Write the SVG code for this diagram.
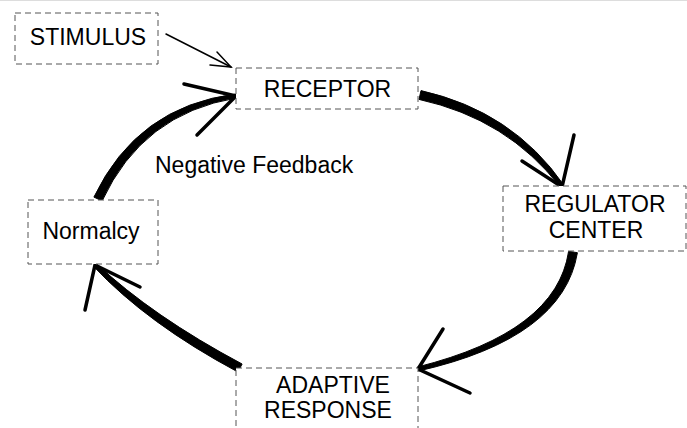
<svg xmlns="http://www.w3.org/2000/svg" width="687" height="428" viewBox="0 0 687 428">
<style>
.box{fill:#fff;stroke:#555;stroke-width:1;stroke-dasharray:6,4}
.lbl{font-family:"Liberation Sans",Arial,sans-serif;font-size:23px;fill:#000;text-anchor:middle}
.thick{fill:#000;stroke:#000;stroke-width:1;stroke-linejoin:round}
.barb{fill:none;stroke:#000;stroke-width:3.5;stroke-linecap:round}
.thin{fill:none;stroke:#000;stroke-width:1.5;stroke-linecap:round}
</style>
<rect width="687" height="428" fill="#fff"/>
<line x1="0" y1="0.5" x2="687" y2="0.5" stroke="#ddd" stroke-width="1"/>
<g id="connectors">
  <g id="stimulus-to-receptor">
    <line class="thin" x1="166" y1="34" x2="231" y2="67"/>
    <polyline class="thin" points="217,52 231,67 210,65"/>
  </g>
  <g id="receptor-to-regulator">
    <path class="thick" d="M419,99.4 Q507.5,118.8 560.4,187.2 L563.6,184.8 Q512.5,111.2 421,90.6 Z"/>
    <polyline class="barb" points="522,161 562,187 574,135"/>
  </g>
  <g id="regulator-to-adaptive">
    <path class="thick" d="M568.6,251.3 Q556.7,331.9 417.5,367 L418.5,371 Q563.3,338.1 577.4,252.7 Z"/>
    <polyline class="barb" points="443,329 418,369 470,393"/>
  </g>
  <g id="adaptive-to-normalcy">
    <path class="thick" d="M242.1,364 Q152.7,316.4 96.4,263.6 L93.6,266.4 Q147.3,323.6 237.9,372 Z"/>
    <polyline class="barb" points="85,310 95,265 140,287"/>
  </g>
  <g id="normalcy-to-receptor">
    <path class="thick" d="M102.1,200.9 Q142.7,113.6 236.3,98 L235.7,94 Q137.3,106.4 93.9,197.1 Z"/>
    <polyline class="barb" points="184,84 236,96 197,135"/>
  </g>
</g>
<g id="stimulus">
  <rect class="box" x="15" y="13" width="143" height="51"/>
  <text class="lbl" x="88" y="45">STIMULUS</text>
</g>
<g id="receptor">
  <rect class="box" x="236" y="68" width="182" height="41"/>
  <text class="lbl" x="327.5" y="97">RECEPTOR</text>
</g>
<g id="regulator-center">
  <rect class="box" x="503" y="186" width="183" height="65"/>
  <text class="lbl" x="595" y="212">REGULATOR</text>
  <text class="lbl" x="596" y="238">CENTER</text>
</g>
<g id="adaptive-response">
  <rect class="box" x="236" y="368" width="182" height="72"/>
  <text class="lbl" x="333" y="393">ADAPTIVE</text>
  <text class="lbl" x="328" y="418">RESPONSE</text>
</g>
<g id="normalcy">
  <rect class="box" x="28" y="200" width="130" height="64"/>
  <text class="lbl" x="91" y="239">Normalcy</text>
</g>
<g id="label-negative-feedback">
  <text class="lbl" x="155" y="173" style="text-anchor:start">Negative Feedback</text>
</g>
</svg>
